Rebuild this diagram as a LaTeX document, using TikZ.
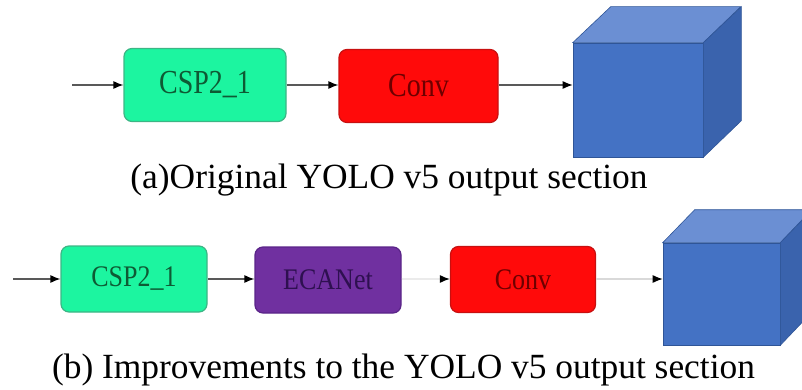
\documentclass[tikz,border=0pt]{standalone}
\usepackage{fontspec}
\setmainfont{Liberation Serif}
\usetikzlibrary{arrows.meta}

\definecolor{cspfill}{HTML}{1CF5A0}
\definecolor{cspline}{HTML}{3DB585}
\definecolor{csptext}{HTML}{0E5A34}
\definecolor{convfill}{HTML}{FF0A0A}
\definecolor{convline}{HTML}{C81010}
\definecolor{convtext}{HTML}{6E0000}
\definecolor{ecafill}{HTML}{7030A0}
\definecolor{ecaline}{HTML}{5A2488}
\definecolor{ecatext}{HTML}{2E1050}
\definecolor{cubefront}{HTML}{4472C4}
\definecolor{cubetop}{HTML}{6B8FD3}
\definecolor{cubeside}{HTML}{3A63AD}
\definecolor{cubeedge}{HTML}{2F5597}

\tikzset{
  block/.style={rectangle, rounded corners=8pt, line width=1.2pt, inner sep=0pt},
  bigblock/.style={block, minimum height=73pt},
  smallblock/.style={block, minimum height=66pt},
  cspbox/.style={fill=cspfill, draw=cspline, text=csptext},
  convbox/.style={fill=convfill, draw=convline, text=convtext},
  ecabox/.style={fill=ecafill, draw=ecaline, text=ecatext},
  flow/.style={line width=1.2pt, draw=black!65, -{Latex[length=10pt,width=8pt,black]}},
  faintflow/.style={line width=1.2pt, draw=black!8, -{Latex[length=10pt,width=8pt,black]}},
  cubeface/.style={rectangle, fill=cubefront, draw=cubeedge, line width=0.6pt, inner sep=0pt},
  caption/.style={anchor=base, inner sep=0pt, font=\fontsize{35.4}{40}\selectfont}
}

\newcommand{\bigtxt}[1]{\fontsize{28}{30}\selectfont\scalebox{1}[1.2]{#1}}
\newcommand{\smalltxt}[1]{\fontsize{26}{28}\selectfont\scalebox{1}[1.15]{#1}}

\begin{document}
\begin{tikzpicture}[x=1pt, y=-1pt]
  \useasboundingbox (0,0) rectangle (802,390);
  \clip (0,0) rectangle (802,390);

  % ---------- (a) original output section ----------
  \coordinate (inA) at (72,85);
  \node[bigblock, cspbox, minimum width=162pt] (cspA) at (205,85) {\bigtxt{CSP2\_1}};
  \node[bigblock, convbox, minimum width=159pt] (convA) at (418.5,86) {\bigtxt{Conv}};
  \node[cubeface, minimum width=130pt, minimum height=114pt] (cubeA) at (638,100) {};
  \fill[cubetop, draw=cubeedge, line width=0.6pt]
    (cubeA.north west) -- ++(38,-36) -- ++(130,0) -- (cubeA.north east) -- cycle;
  \fill[cubeside, draw=cubeedge, line width=0.6pt]
    (cubeA.north east) -- ++(38,-36) -- ++(0,114) -- (cubeA.south east) -- cycle;

  \draw[flow] (inA) -- (cspA.west |- inA);
  \draw[flow] (cspA.east |- inA) -- (convA.west |- inA);
  \draw[flow] (convA.east |- inA) -- (cubeA.west |- inA);

  \node[caption] (capA) at (389,188) {(a)Original YOLO v5 output section};

  % ---------- (b) improved output section ----------
  \coordinate (inB) at (13,279);
  \node[smallblock, cspbox, minimum width=146pt] (cspB) at (134,279) {\smalltxt{CSP2\_1}};
  \node[smallblock, ecabox, minimum width=146pt] (ecaB) at (328,280) {\smalltxt{ECANet}};
  \node[smallblock, convbox, minimum width=145pt] (convB) at (523,279.5) {\smalltxt{Conv}};
  \node[cubeface, minimum width=117pt, minimum height=102pt] (cubeB) at (721.5,294) {};
  \fill[cubetop, draw=cubeedge, line width=0.6pt]
    (cubeB.north west) -- ++(32,-33) -- ++(117,0) -- (cubeB.north east) -- cycle;
  \fill[cubeside, draw=cubeedge, line width=0.6pt]
    (cubeB.north east) -- ++(32,-33) -- ++(0,102) -- (cubeB.south east) -- cycle;

  \draw[flow] (inB) -- (cspB.west |- inB);
  \draw[flow] (cspB.east |- inB) -- (ecaB.west |- inB);
  \draw[faintflow] (ecaB.east |- inB) -- (convB.west |- inB);
  \draw[flow, draw=black!15] (convB.east |- inB) -- (cubeB.west |- inB);

  \node[caption] (capB) at (403.5,378) {(b) Improvements to the YOLO v5 output section};
\end{tikzpicture}
\end{document}
